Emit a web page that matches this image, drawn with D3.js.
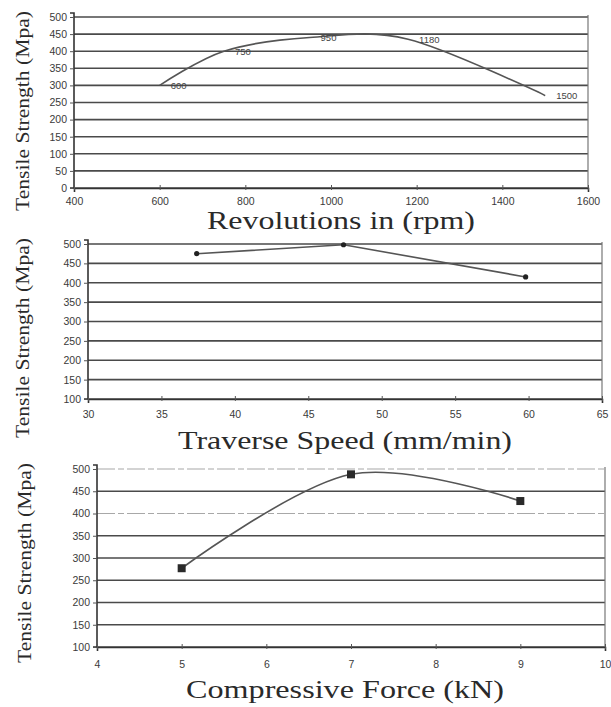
<!DOCTYPE html>
<html><head><meta charset="utf-8">
<script src="https://cdn.jsdelivr.net/npm/d3@7"></script>
<style>
html,body{margin:0;padding:0;background:#fff;}
svg{display:block;}
</style></head>
<body>
<svg id="c" width="611" height="707"></svg>
<script>
// ---- Data ----
const rpm = [600, 750, 950, 1180, 1500];
const rpmStrength = [300, 400, 440, 435, 270];
const rpmLabels = ["600", "750", "950", "1180", "1500"];
const rpmTicks = [400, 600, 800, 1000, 1200, 1400, 1600];
const rpmYTicks = [0, 50, 100, 150, 200, 250, 300, 350, 400, 450, 500];

const speed = [37.4, 47.4, 59.8];
const speedStrength = [475, 498, 415];
const speedTicks = [30, 35, 40, 45, 50, 55, 60, 65];

const force = [5, 7, 9];
const forceStrength = [277, 488, 428];
const forceTicks = [4, 5, 6, 7, 8, 9, 10];

const strengthTicks = [100, 150, 200, 250, 300, 350, 400, 450, 500];

const yTitle = "Tensile Strength (Mpa)";
const xTitles = ["Revolutions in  (rpm)", "Traverse Speed (mm/min)", "Compressive Force (kN)"];

// ---- Drawing ----
const svg = d3.select("#c");
const gridCol = "#4a4a4a", lineCol = "#555", tickCol = "#555";

function panel(cfg) {
  const x = d3.scaleLinear().domain(cfg.xDomain).range(cfg.xRange);
  const y = d3.scaleLinear().domain(cfg.yDomain).range(cfg.yRange);
  const g = svg.append("g");

  // gridlines
  const isFaint = d => cfg.faint && cfg.faint.includes(d);
  g.append("g").selectAll("line").data(cfg.yTicks).join("line")
    .attr("x1", cfg.xRange[0]).attr("x2", cfg.xRange[1])
    .attr("y1", d => y(d)).attr("y2", d => y(d))
    .attr("stroke", d => isFaint(d) ? "#a8a8a8" : gridCol)
    .attr("stroke-width", d => isFaint(d) ? 1.2 : 1.6)
    .attr("stroke-dasharray", d => isFaint(d) ? "18,3,6,3" : null);

  // right border
  g.append("line").attr("x1", cfg.xRange[1]).attr("x2", cfg.xRange[1])
    .attr("y1", y(cfg.yDomain[1]) - 2).attr("y2", y(cfg.yDomain[0]))
    .attr("stroke", "#777").attr("stroke-width", 1.2);

  // y axis
  const ya = d3.axisLeft(y).tickValues(cfg.yTicks).tickSize(4).tickPadding(3).tickFormat(d3.format("d"));
  const yg = g.append("g").attr("transform", `translate(${cfg.xRange[0]},0)`).call(ya);
  yg.select(".domain").attr("stroke", "#333").attr("stroke-width", 1.6)
    .attr("d", `M-4,${y(cfg.yDomain[1]) - 4}H0V${y(cfg.yDomain[0])}H-4`);
  yg.selectAll(".tick line").attr("stroke", tickCol);
  yg.selectAll("text").attr("font-family", "Liberation Sans, Arial, sans-serif")
    .attr("font-size", 10.5).attr("fill", "#3a3a3a");

  // x axis
  const xa = d3.axisBottom(x).tickValues(cfg.xTicks).tickSize(4).tickPadding(cfg.xPad).tickFormat(d3.format("d"));
  const xg = g.append("g").attr("transform", `translate(0,${cfg.yRange[0]})`).call(xa);
  xg.select(".domain").attr("stroke", "#333").attr("stroke-width", 1.6);
  xg.selectAll(".tick line").attr("stroke", tickCol).attr("y1", -3).attr("y2", 2);
  xg.selectAll("text").attr("font-family", "Liberation Sans, Arial, sans-serif")
    .attr("font-size", 10.5).attr("fill", "#3a3a3a");

  // data line
  const pts = cfg.xs.map((v, i) => [v, cfg.ys[i]]);
  const line = d3.line().x(d => x(d[0])).y(d => y(d[1])).curve(cfg.curve);
  g.append("path").datum(pts).attr("d", line).attr("fill", "none")
    .attr("stroke", lineCol).attr("stroke-width", 1.6);

  if (cfg.marker === "circle") {
    g.selectAll("circle.m").data(pts).join("circle").attr("class", "m")
      .attr("cx", d => x(d[0])).attr("cy", d => y(d[1])).attr("r", 2.6).attr("fill", "#222");
  } else if (cfg.marker === "square") {
    g.selectAll("rect.m").data(pts).join("rect").attr("class", "m")
      .attr("x", d => x(d[0]) - 4).attr("y", d => y(d[1]) - 4)
      .attr("width", 8).attr("height", 8).attr("fill", "#2a2a2a");
  }
  if (cfg.labels) {
    g.selectAll("text.lab").data(pts).join("text").attr("class", "lab")
      .attr("x", d => x(d[0]) + 11).attr("y", d => y(d[1]) + 3.5)
      .attr("font-family", "Liberation Sans, Arial, sans-serif").attr("font-size", 9.5)
      .attr("fill", "#444").text((d, i) => cfg.labels[i]);
  }

  // titles
  g.append("text").attr("transform", `translate(${cfg.yTitleX},${cfg.yTitleY}) rotate(-90)`)
    .attr("text-anchor", "middle").attr("font-family", "Liberation Serif, Times New Roman, serif")
    .attr("font-size", 19).attr("fill", "#2a2a2a")
    .attr("textLength", 200).attr("lengthAdjust", "spacingAndGlyphs").text(yTitle);
  g.append("text").attr("x", cfg.xTitleX).attr("y", cfg.xTitleY)
    .attr("text-anchor", "middle").attr("font-family", "Liberation Serif, Times New Roman, serif")
    .attr("font-size", 25).attr("fill", "#2a2a2a")
    .attr("textLength", cfg.xTitleLen).attr("lengthAdjust", "spacingAndGlyphs").text(cfg.xTitle);
}

panel({
  xDomain: [400, 1600], xRange: [74, 588], yDomain: [0, 500], yRange: [188, 17],
  xTicks: rpmTicks, yTicks: rpmYTicks, xPad: 6,
  xs: rpm, ys: rpmStrength, curve: d3.curveCardinal.tension(0), marker: null, labels: rpmLabels,
  yTitleX: 29, yTitleY: 111, xTitle: xTitles[0], xTitleX: 341, xTitleY: 229, xTitleLen: 268
});
panel({
  xDomain: [30, 65], xRange: [88, 602], yDomain: [100, 500], yRange: [399, 244],
  xTicks: speedTicks, yTicks: strengthTicks, xPad: 8,
  xs: speed, ys: speedStrength, curve: d3.curveLinear, marker: "circle", labels: null,
  yTitleX: 29, yTitleY: 338, xTitle: xTitles[1], xTitleX: 345, xTitleY: 449, xTitleLen: 334
});
panel({
  xDomain: [4, 10], xRange: [97, 605], yDomain: [100, 500], yRange: [647, 469],
  xTicks: forceTicks, yTicks: strengthTicks, xPad: 10, faint: [500, 400],
  xs: force, ys: forceStrength, curve: d3.curveCardinal.tension(0), marker: "square", labels: null,
  yTitleX: 31, yTitleY: 563, xTitle: xTitles[2], xTitleX: 345, xTitleY: 698, xTitleLen: 318
});
</script>
</body></html>
